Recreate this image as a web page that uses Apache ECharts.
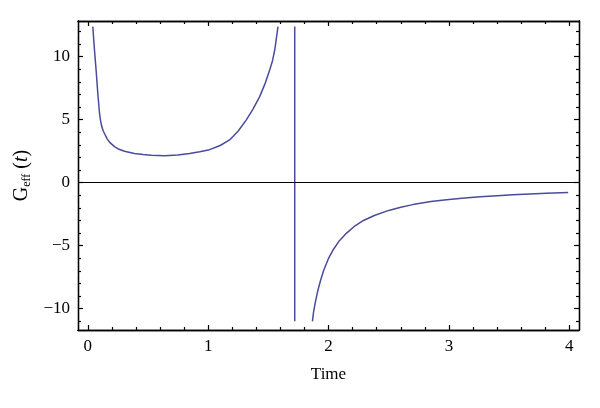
<!DOCTYPE html>
<html>
<head>
<meta charset="utf-8">
<script src="https://cdn.jsdelivr.net/npm/echarts@6/dist/echarts.min.js"></script>
<style>html,body{margin:0;padding:0;background:#fff}#c{width:600px;height:408px}</style>
</head>
<body>
<div id="c"></div>
<script>
// Data: [time, G_eff]
var branchLeft = [[0.042,12.38],[0.050,11.3],[0.0585,10.2],[0.0696,8.9],[0.0834,7.1],[0.0973,5.55],[0.106,4.95],[0.1166,4.45],[0.128,4.12],[0.139,3.9],[0.16,3.5],[0.18,3.22],[0.222,2.86],[0.26,2.65],[0.305,2.5],[0.388,2.32],[0.46,2.23],[0.527,2.17],[0.638,2.14],[0.748,2.2],[0.846,2.32],[0.93,2.45],[1.012,2.62],[1.1,2.95],[1.178,3.39],[1.25,4.1],[1.317,4.98],[1.37,5.8],[1.428,6.83],[1.47,7.8],[1.511,8.94],[1.535,9.7],[1.553,10.53],[1.58,12.38]];
var branchJump = [[1.719,12.4],[1.719,-11.0]];
var branchRight = [[1.866,-11.0],[1.875,-10.3],[1.89,-9.5],[1.91,-8.6],[1.935,-7.7],[1.96,-6.95],[2.0,-6.0],[2.04,-5.3],[2.09,-4.6],[2.15,-4.0],[2.22,-3.42],[2.29,-3.0],[2.38,-2.6],[2.5,-2.2],[2.6,-1.95],[2.7,-1.74],[2.85,-1.5],[2.98,-1.35],[3.13,-1.22],[3.26,-1.12],[3.4,-1.03],[3.53,-0.96],[3.67,-0.9],[3.81,-0.84],[3.99,-0.77]];
var xMajorTicks = [0,1,2,3,4];
var xMinorTicks = [0.2,0.4,0.6,0.8,1.2,1.4,1.6,1.8,2.2,2.4,2.6,2.8,3.2,3.4,3.6,3.8];
var yMajorTicks = [-10,-5,0,5,10];
var yMinorTicks = [-11,-9,-8,-7,-6,-4,-3,-2,-1,1,2,3,4,6,7,8,9,11,12];
var xLabel = 'Time';

var X_MIN = -0.081, X_MAX = 4.08, Y_MIN = -11.69, Y_MAX = 12.83;
var FONT = 'Liberation Serif';
var lineCol = '#4b4b9c';

function fmt(v){ return String(v).replace('-', '\u2212'); }

function mkX(pos, ticks, len, showLabel, extra){
  var a = {
    type:'value', position:pos, min:X_MIN, max:X_MAX,
    axisLine:{show:true, onZero:false, lineStyle:{color:'#000', width:1.3}},
    axisTick:{show:true, inside:true, length:len, customValues:ticks, lineStyle:{color:'#000', width:1.2}},
    axisLabel:{show:showLabel, customValues:ticks, formatter:fmt, color:'#000', fontFamily:FONT, fontSize:17, margin:8},
    splitLine:{show:false}
  };
  if (extra) for (var k in extra) a[k]=extra[k];
  return a;
}
function mkY(pos, ticks, len, showLabel, extra){
  var a = {
    type:'value', position:pos, min:Y_MIN, max:Y_MAX,
    axisLine:{show:true, onZero:false, lineStyle:{color:'#000', width:1.3}},
    axisTick:{show:true, inside:true, length:len, customValues:ticks, lineStyle:{color:'#000', width:1.2}},
    axisLabel:{show:showLabel, customValues:ticks, formatter:fmt, color:'#000', fontFamily:FONT, fontSize:17, margin:8},
    splitLine:{show:false}
  };
  if (extra) for (var k in extra) a[k]=extra[k];
  return a;
}

var chart = echarts.init(document.getElementById('c'), null, {renderer:'canvas'});
chart.setOption({
  animation:false,
  backgroundColor:'#fff',
  grid:{left:78, right:21, top:21, bottom:78, containLabel:false},
  xAxis:[
    mkX('bottom', xMajorTicks, 5, true, {name:xLabel, nameLocation:'middle', nameGap:36, nameTextStyle:{color:'#000', fontFamily:FONT, fontSize:17}}),
    mkX('bottom', xMinorTicks, 3, false),
    mkX('top', xMajorTicks, 5, false),
    mkX('top', xMinorTicks, 3, false)
  ],
  yAxis:[
    mkY('left', yMajorTicks, 5, true, {
      name:'{g|G}{s|eff}{p| (}{t|t}{p|)}', nameLocation:'middle', nameGap:30, nameRotate:90,
      nameTextStyle:{color:'#000', fontFamily:FONT, fontSize:19,
        rich:{
          g:{fontFamily:FONT, fontSize:20, color:'#000'},
          s:{fontFamily:FONT, fontSize:12, color:'#000', padding:[9,0,0,0]},
          p:{fontFamily:FONT, fontSize:20, color:'#000'},
          t:{fontFamily:FONT, fontSize:20, fontStyle:'italic', color:'#000'}
        }}
    }),
    mkY('left', yMinorTicks, 3, false),
    mkY('right', yMajorTicks, 5, false),
    mkY('right', yMinorTicks, 3, false)
  ],
  series:[
    {type:'line', xAxisIndex:0, yAxisIndex:0, data:branchLeft, showSymbol:false, smooth:false,
     lineStyle:{color:lineCol, width:1.5},
     markLine:{silent:true, symbol:'none', label:{show:false}, lineStyle:{color:'#000', width:1.2, type:'solid'}, data:[{yAxis:0}]}},
    {type:'line', xAxisIndex:0, yAxisIndex:0, data:branchJump, showSymbol:false, lineStyle:{color:lineCol, width:1.5}},
    {type:'line', xAxisIndex:0, yAxisIndex:0, data:branchRight, showSymbol:false, smooth:false, lineStyle:{color:lineCol, width:1.5}}
  ]
});
</script>
</body>
</html>
